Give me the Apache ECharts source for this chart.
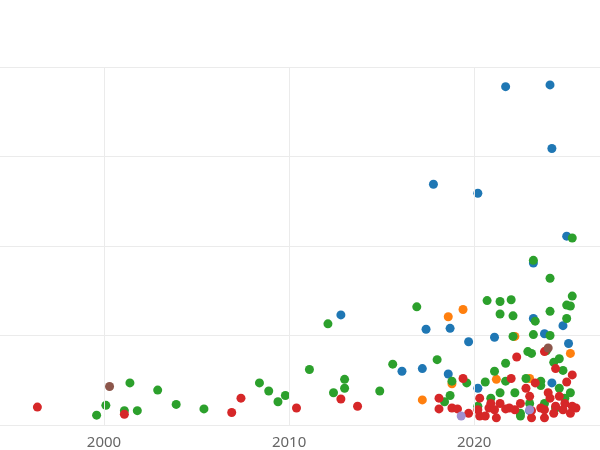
<!DOCTYPE html>
<html><head><meta charset="utf-8">
<script src="https://cdn.jsdelivr.net/npm/echarts@6/dist/echarts.min.js"></script>
<style>html,body{margin:0;padding:0;background:#fff}#c{width:600px;height:450px}</style>
</head><body><div id="c"></div>
<script>
const xTicks=[2000,2010,2020];
const blue=[[2021.7,3.78],[2024.1,3.8],[2024.2,3.09],[2017.8,2.69],[2020.2,2.59],[2025.0,2.11],[2023.2,1.81],[2012.8,1.23],[2017.4,1.07],[2018.7,1.08],[2019.7,0.93],[2021.1,0.98],[2023.8,1.02],[2024.8,1.11],[2025.1,0.91],[2023.2,1.19],[2016.1,0.6],[2017.2,0.63],[2018.6,0.57],[2020.2,0.41],[2024.2,0.47],[2023.0,0.16]];
const green=[[2025.3,2.09],[2023.2,1.84],[2024.1,1.64],[2016.9,1.32],[2012.1,1.13],[2020.7,1.39],[2021.4,1.38],[2022.0,1.4],[2021.4,1.24],[2022.1,1.22],[2024.1,1.27],[2025.3,1.44],[2025.2,1.33],[2025.0,1.34],[2025.0,1.19],[2023.3,1.16],[2023.2,1.01],[2024.1,1.0],[2022.1,0.99],[2018.0,0.73],[2021.7,0.69],[2015.6,0.68],[2011.1,0.62],[2013.0,0.51],[2022.9,0.82],[2023.1,0.8],[2023.9,0.83],[2024.6,0.74],[2024.3,0.7],[2024.8,0.61],[2001.4,0.47],[2008.4,0.47],[2002.9,0.39],[2008.9,0.38],[2009.8,0.33],[2012.4,0.36],[2013.0,0.41],[2014.9,0.38],[2009.4,0.26],[2003.9,0.23],[2005.4,0.18],[1999.6,0.11],[2000.1,0.22],[2001.1,0.16],[2001.8,0.16],[2019.6,0.47],[2020.6,0.48],[2018.8,0.49],[2018.7,0.33],[2018.4,0.26],[2021.1,0.6],[2021.7,0.49],[2022.2,0.36],[2022.8,0.52],[2023.6,0.44],[2024.6,0.41],[2025.2,0.36],[2023.0,0.24],[2022.5,0.13],[2020.2,0.21],[2020.9,0.3],[2021.4,0.36],[2023.8,0.24],[2024.4,0.19],[2024.9,0.3],[2022.5,0.1],[2023.6,0.49]];
const red=[[1996.4,0.2],[2001.1,0.12],[2007.4,0.3],[2006.9,0.14],[2010.4,0.19],[2012.8,0.29],[2013.7,0.21],[2018.1,0.18],[2018.1,0.3],[2018.8,0.19],[2019.1,0.18],[2019.4,0.52],[2019.7,0.13],[2020.3,0.1],[2020.8,0.19],[2021.2,0.08],[2021.7,0.18],[2022.0,0.52],[2022.3,0.76],[2023.1,0.16],[2023.8,0.82],[2024.4,0.63],[2025.0,0.48],[2025.3,0.56],[2023.8,0.08],[2024.4,0.21],[2024.9,0.24],[2025.5,0.19],[2020.3,0.3],[2021.4,0.24],[2022.5,0.24],[2023.0,0.32],[2023.6,0.19],[2024.1,0.3],[2024.6,0.32],[2025.2,0.13],[2021.9,0.19],[2022.8,0.41],[2023.3,0.47],[2024.0,0.36],[2020.6,0.1],[2021.1,0.17],[2022.2,0.17],[2023.1,0.08],[2023.8,0.17],[2024.3,0.13],[2024.8,0.17],[2025.3,0.21],[2020.2,0.17],[2020.9,0.24]];
const orange=[[2018.6,1.21],[2019.4,1.29],[2017.2,0.28],[2021.2,0.51],[2022.2,0.99],[2025.2,0.8],[2018.8,0.46],[2023.0,0.52]];
const brown=[[2000.3,0.43],[2024.0,0.86]];
const purple=[[2019.3,0.1],[2023.0,0.17]];
const mk=(d,c)=>({type:'scatter',data:d,symbolSize:9,itemStyle:{color:c,opacity:1},emphasis:{disabled:true}});
const bs=mk(blue,'#1f77b4');
bs.markLine={silent:true,symbol:'none',label:{show:false},lineStyle:{color:'#ebebeb',type:'solid',width:1},
 data:xTicks.map(v=>({xAxis:v}))};
const ch=echarts.init(document.getElementById('c'));
ch.setOption({animation:false,
grid:{left:0,right:0,top:67,bottom:23},
xAxis:{type:'value',min:1994.38,max:2026.8,
 axisLine:{show:false},axisTick:{show:false},
 axisLabel:{color:'#666',fontSize:15,margin:10,fontFamily:'Noto Sans',customValues:xTicks,formatter:v=>String(v)},
 splitLine:{show:false}},
yAxis:{type:'value',min:0,max:4,interval:1,axisLabel:{show:false},axisLine:{show:false},axisTick:{show:false},
 splitLine:{lineStyle:{color:'#ebebeb'}}},
series:[bs,mk(orange,'#ff7f0e'),mk(green,'#2ca02c'),mk(red,'#d62728'),mk(brown,'#8c564b'),mk(purple,'#9f8fd0')]
});
</script></body></html>
